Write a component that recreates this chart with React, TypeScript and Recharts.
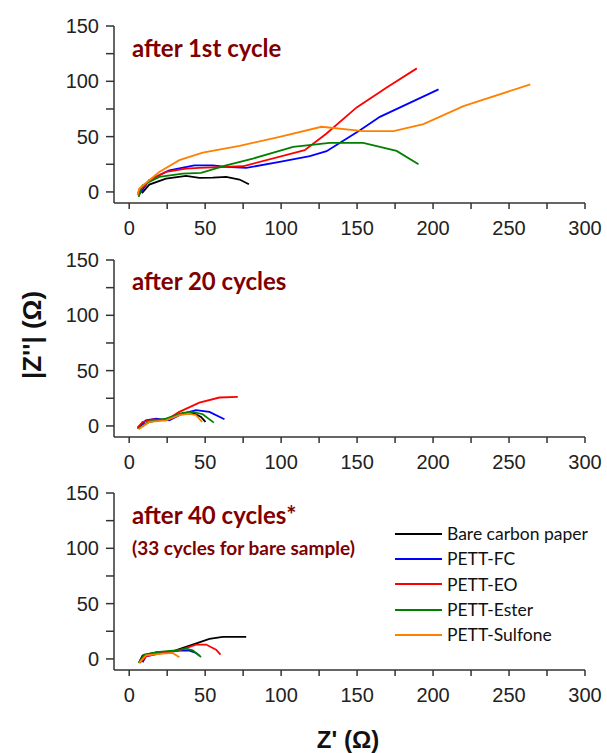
import React from 'react';
import { LineChart, Line, XAxis, YAxis, Legend } from 'recharts';

const seriesNames = ['Bare carbon paper', 'PETT-FC', 'PETT-EO', 'PETT-Ester', 'PETT-Sulfone'];
const seriesColors = ['#000000', '#0000ff', '#ff0000', '#008000', '#ff8000'];
const xTicks = [0, 25, 50, 75, 100, 125, 150, 175, 200, 225, 250, 275, 300];
const yTicks = [0, 25, 50, 75, 100, 125, 150];

// after 1st cycle  [Z', |Z''|]
const c1Bare = [[8.4, -1], [13.2, 6.6], [24.2, 12], [37.4, 14.5], [46.2, 12.7], [55, 13], [63.8, 13.6], [72.6, 11.2], [78.8, 6.9]];
const c1FC = [[6.2, -3], [13.2, 10.6], [26.4, 19.6], [42.9, 24.1], [55, 24.1], [63.8, 22.6], [77, 21.7], [99, 27.2], [118.9, 32.3], [129.9, 36.8], [151.9, 55.8], [165, 67.9], [203.6, 92.7]];
const c1EO = [[5.5, -1], [13.2, 10.6], [24.2, 18.1], [37.4, 21.1], [46, 21.7], [74.8, 23.2], [115.5, 37.7], [129.9, 52.8], [149.7, 76.4], [169.5, 94.5], [189.3, 111.7]];
const c1Ester = [[6.2, -4.5], [8.8, 6], [19.8, 13.6], [35.2, 16.6], [47.3, 17.2], [63.8, 24.1], [81.4, 30.2], [107.9, 40.7], [132, 44.4], [154, 44.4], [176, 37.1], [190.4, 25]];
const c1Sulfone = [[5.5, -3], [6.6, 3], [19.8, 18], [33, 28.7], [48.4, 35.6], [72.6, 41.7], [99, 49.8], [126.6, 58.9], [154, 55], [174, 55], [193.7, 61.3], [220, 77.6], [264, 97.2]];

// after 20 cycles
const c20Bare = [[6.2, -1.5], [13.2, 3.6], [24.2, 6], [35.2, 11.2], [42.9, 11.2], [47.3, 8.2], [50.2, 3.6]];
const c20FC = [[5.5, -2.4], [11, 5.1], [17.6, 6.6], [26.4, 5.1], [35.2, 11.2], [44, 14.2], [52.8, 12.7], [62.7, 6]];
const c20EO = [[5.5, -1.5], [8.8, 3.6], [15.4, 6], [24.2, 5.1], [33, 12.7], [46.2, 21.1], [59.4, 25.7], [71.5, 26.3]];
const c20Ester = [[6.2, -2.4], [13.2, 4.2], [24.2, 6.6], [35.2, 11.8], [41.8, 12.7], [48.4, 10.6], [55.7, 3]];
const c20Sulfone = [[6.2, -3], [13.2, 3.6], [24.2, 5.1], [33, 9.7], [39.6, 11.2], [44, 9.7], [48, 3.6]];

// after 40 cycles (33 for bare)
const c40Bare = [[6.6, -3], [8.8, 3], [17.6, 6], [28.6, 6.9], [41.8, 13], [52.8, 18.1], [61.6, 19.9], [77, 19.9]];
const c40FC = [[8.8, -3], [11, 2.4], [22, 5.4], [33, 7.5], [39.6, 7.5], [44, 5.4], [46.2, 3]];
const c40EO = [[7, -3.6], [11, 2.4], [19.8, 5.4], [33, 7.8], [44, 13], [50.6, 13], [57.2, 8.4], [60.1, 3.9]];
const c40Ester = [[6.2, -3.6], [9.9, 3.9], [19.8, 6.3], [30.8, 7.8], [37.4, 9.3], [41.8, 7.8], [47.3, 1.8]];
const c40Sulfone = [[6.6, -3.6], [11, 3.3], [22, 4.8], [28.6, 5.4], [33, 1.5]];

const toPts = (arr: number[][]) => arr.map(([x, y]) => ({ x, y }));

const panels = [
  { top: 0, series: [c1Bare, c1FC, c1EO, c1Ester, c1Sulfone] },
  { top: 234, series: [c20Bare, c20FC, c20EO, c20Ester, c20Sulfone] },
  { top: 467, series: [c40Bare, c40FC, c40EO, c40Ester, c40Sulfone] },
];

const tickFont = { fontSize: 20, fill: '#222', fontFamily: '"Liberation Sans", Arial, sans-serif' };
const axisColor = '#333';

// keep the original series order (recharts sorts the payload by name)
const LegendBox = () => (
  <div style={{ fontFamily: 'Lato, "Open Sans", sans-serif', fontSize: 17.5, color: '#111' }}>
    {seriesNames.map((name, i) => (
      <div key={name} style={{ display: 'flex', alignItems: 'center', height: 25.3 }}>
        <div style={{ width: 47, height: 2, background: seriesColors[i], marginRight: 5 }} />
        <span>{name}</span>
      </div>
    ))}
  </div>
);

const Panel = ({ top, series, legend }: any) => (
  <div style={{ position: 'absolute', left: 0, top }}>
    <LineChart width={607} height={240} margin={{ top: 26, right: 22, bottom: 7, left: 0 }}>
      <XAxis
        type="number"
        dataKey="x"
        domain={[-10, 300]}
        ticks={xTicks}
        allowDataOverflow
        tickFormatter={(v: number) => (v % 50 === 0 ? String(v) : '')}
        tick={tickFont}
        tickSize={6}
        tickMargin={12}
        height={30}
        stroke={axisColor}
        strokeWidth={1.5}
      />
      <YAxis
        type="number"
        dataKey="y"
        domain={[-10, 150]}
        ticks={yTicks}
        allowDataOverflow
        tickFormatter={(v: number) => (v % 50 === 0 ? String(v) : '')}
        tick={tickFont}
        tickSize={8}
        tickMargin={7}
        width={114}
        stroke={axisColor}
        strokeWidth={1.5}
      />
      {series.map((s: number[][], i: number) => (
        <Line
          key={seriesNames[i]}
          name={seriesNames[i]}
          data={toPts(s)}
          dataKey="y"
          type="linear"
          stroke={seriesColors[i]}
          strokeWidth={1.8}
          dot={false}
          isAnimationActive={false}
        />
      ))}
      {legend && (
        <Legend
          layout="vertical"
          align="center"
          verticalAlign="middle"
          content={<LegendBox />}
          wrapperStyle={{ left: 395, top: 54, width: 210, height: 130 }}
        />
      )}
    </LineChart>
  </div>
);

export default function App() {
  const titleStyle = { fontFamily: 'Lato, "Open Sans", sans-serif', fontWeight: 700, fill: '#7f0000' } as const;
  return (
    <div style={{ position: 'absolute', left: 0, top: 0, width: 607, height: 753, background: '#fff' }}>
      {panels.map((p, i) => (
        <Panel key={i} top={p.top} series={p.series} legend={i === 2} />
      ))}
      <svg width={607} height={753} style={{ position: 'absolute', left: 0, top: 0, pointerEvents: 'none' }}>
        <text x={132} y={57} fontSize={24} {...titleStyle}>after 1st cycle</text>
        <text x={132} y={290} fontSize={24} {...titleStyle}>after 20 cycles</text>
        <text x={132} y={524} fontSize={24} {...titleStyle}>after 40 cycles*</text>
        <text x={132} y={555} fontSize={19} {...titleStyle}>(33 cycles for bare sample)</text>
        <text
          x={41}
          y={335}
          transform="rotate(-90 41 335)"
          textAnchor="middle"
          fontSize={26}
          fontWeight={700}
          fontFamily='"Liberation Sans", Arial, sans-serif'
          fill="#111"
        >
          |Z''| (Ω)
        </text>
        <text
          x={348}
          y={748}
          textAnchor="middle"
          fontSize={24}
          fontWeight={700}
          fontFamily='"Liberation Sans", Arial, sans-serif'
          fill="#111"
        >
          Z' (Ω)
        </text>
      </svg>
    </div>
  );
}
